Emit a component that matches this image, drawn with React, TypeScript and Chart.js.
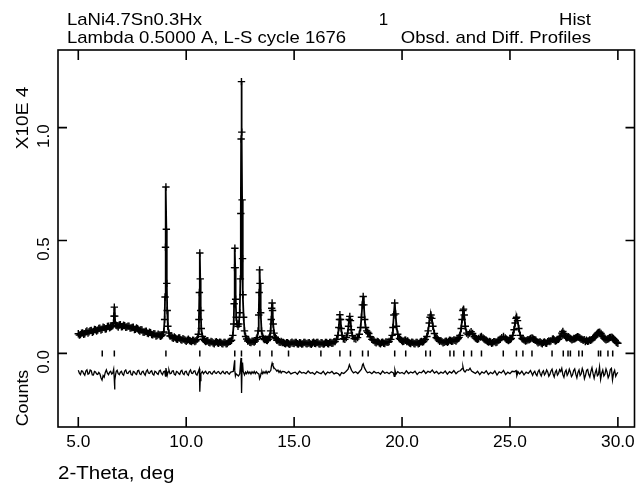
import React, { useEffect, useRef } from "react";
import { Chart, registerables } from "chart.js";

Chart.register(...registerables);

// ---------- texts ----------
const headerLeft = ["LaNi4.7Sn0.3Hx", "Lambda 0.5000 A, L-S cycle 1676"];
const headerCenter = "1";
const headerRight = ["Hist", "Obsd. and Diff. Profiles"];
const xAxisTitle = "2-Theta, deg";
const yAxisScaleTitle = "X10E 4";
const yAxisTitle = "Counts";

// ---------- ticks ----------
const xTicks = [5, 10, 15, 20, 25, 30];
const yTicks = [0, 0.5, 1.0];
const xRange = [4.06, 30.77];
const yRange = [-0.326, 1.344];

// ---------- observed / calculated profile: [2-theta, counts x 10^4] ----------
const profileLow: [number, number][] = [
  [5.0, .087], [5.05, .081], [5.1, .083], [5.15, .09], [5.2, .091], [5.25, .085], [5.3, .087], [5.35, .095],
  [5.4, .099], [5.45, .09], [5.5, .096], [5.55, .101], [5.6, .102], [5.65, .094], [5.7, .097], [5.75, .106],
  [5.8, .105], [5.85, .099], [5.9, .103], [5.95, .11], [6.0, .112], [6.05, .104], [6.1, .107], [6.15, .116],
  [6.2, .114], [6.25, .108], [6.3, .109], [6.35, .119], [6.4, .121], [6.45, .113], [6.5, .117], [6.55, .12],
  [6.6, .123], [6.63, .135], [6.65, .165], [6.67, .205], [6.69, .165], [6.71, .135], [6.75, .125], [6.8, .122],
  [6.85, .117], [6.9, .126], [6.95, .127], [7.0, .118], [7.05, .119], [7.1, .125], [7.15, .123], [7.2, .116],
  [7.25, .117], [7.3, .121], [7.35, .12], [7.4, .112], [7.45, .113], [7.5, .115], [7.55, .116], [7.6, .106],
  [7.65, .107], [7.7, .113], [7.75, .109], [7.8, .104], [7.85, .099], [7.9, .105], [7.95, .104], [8.0, .095],
  [8.05, .094], [8.1, .097], [8.15, .098], [8.2, .09], [8.25, .088], [8.3, .094], [8.35, .092], [8.4, .084],
  [8.45, .082], [8.5, .087], [8.55, .086], [8.6, .077], [8.65, .079], [8.7, .085], [8.75, .082], [8.8, .076],
  [8.85, .078], [8.9, .082], [8.96, .095], [9.0, .15], [9.02, .25], [9.04, .47], [9.06, .737], [9.08, .55],
  [9.1, .31], [9.12, .19], [9.15, .12], [9.2, .09], [9.25, .077], [9.3, .078], [9.35, .07], [9.4, .067],
];
const profileMid: [number, number][] = [
  [9.45, .073], [9.5, .069], [9.55, .064], [9.6, .063], [9.65, .069], [9.7, .068], [9.75, .061], [9.8, .059],
  [9.85, .065], [9.9, .062], [9.95, .058], [10.0, .054], [10.05, .059], [10.1, .063], [10.15, .057], [10.2, .055],
  [10.25, .052], [10.3, .058], [10.35, .057], [10.4, .052], [10.45, .056], [10.5, .062], [10.56, .085], [10.59, .15],
  [10.61, .27], [10.63, .445], [10.65, .33], [10.67, .19], [10.7, .11], [10.75, .075], [10.8, .063], [10.85, .057],
  [10.9, .052], [10.95, .055], [11.0, .056], [11.05, .049], [11.1, .047], [11.15, .053], [11.2, .051], [11.25, .046],
  [11.3, .043], [11.35, .05], [11.4, .052], [11.45, .047], [11.5, .045], [11.55, .05], [11.6, .049], [11.65, .044],
  [11.7, .042], [11.75, .049], [11.8, .048], [11.85, .043], [11.9, .044], [11.95, .05], [12.0, .053], [12.05, .054],
  [12.1, .058], [12.16, .08], [12.2, .13], [12.22, .22], [12.24, .38], [12.255, .466], [12.27, .38], [12.29, .24],
  [12.32, .16], [12.36, .13], [12.4, .12], [12.44, .13], [12.48, .18], [12.51, .33], [12.53, .62], [12.545, .95],
  [12.56, 1.204], [12.575, .98], [12.59, .68], [12.61, .42], [12.63, .26], [12.66, .16], [12.7, .1], [12.75, .075],
  [12.8, .064], [12.85, .055], [12.9, .056], [12.95, .049], [13.0, .048], [13.05, .054], [13.1, .053], [13.15, .05],
  [13.2, .055], [13.25, .063], [13.29, .07], [13.33, .1], [13.36, .17], [13.38, .27], [13.4, .37], [13.42, .31],
  [13.45, .18], [13.49, .1], [13.54, .075], [13.58, .066], [13.62, .061], [13.67, .063], [13.72, .058], [13.76, .057],
  [13.8, .062], [13.84, .069], [13.87, .075], [13.91, .1], [13.94, .15], [13.96, .2], [13.98, .223], [14.0, .19],
  [14.03, .13], [14.07, .09], [14.13, .07], [14.17, .065], [14.2, .058], [14.25, .06], [14.3, .051], [14.35, .049],
  [14.4, .053],
];
const profileHigh: [number, number][] = [
  [14.45, .048], [14.5, .049], [14.55, .045], [14.6, .042], [14.65, .047], [14.7, .047], [14.75, .043], [14.8, .04],
  [14.85, .046], [14.9, .05], [14.95, .045], [15.0, .044], [15.05, .049], [15.1, .048], [15.15, .043], [15.2, .041],
  [15.25, .047], [15.3, .046], [15.35, .041], [15.4, .042], [15.45, .048], [15.5, .049], [15.55, .044], [15.6, .042],
  [15.65, .046], [15.7, .047], [15.75, .042], [15.8, .04], [15.85, .046], [15.9, .05], [15.95, .045], [16.0, .044],
  [16.05, .049], [16.1, .048], [16.15, .042], [16.2, .041], [16.25, .047], [16.3, .046], [16.35, .041], [16.4, .042],
  [16.45, .048], [16.5, .049], [16.55, .044], [16.6, .043], [16.65, .049], [16.7, .048], [16.75, .045], [16.8, .046],
  [16.85, .052], [16.9, .053], [16.97, .062], [17.03, .08], [17.07, .115], [17.1, .15], [17.12, .171], [17.15, .15],
  [17.18, .11], [17.22, .08], [17.28, .065], [17.35, .062], [17.42, .07], [17.48, .09], [17.52, .12], [17.55, .15],
  [17.58, .164], [17.61, .145], [17.65, .105], [17.7, .078], [17.78, .066], [17.86, .064], [17.94, .07], [18.02, .085],
  [18.08, .115], [18.12, .16], [18.16, .215], [18.2, .252], [18.23, .215], [18.27, .15], [18.31, .115], [18.36, .1],
  [18.41, .094], [18.46, .088], [18.52, .074], [18.6, .062], [18.65, .06], [18.7, .057], [18.75, .05], [18.8, .047],
  [18.85, .053], [18.9, .051], [18.95, .046], [19.0, .042], [19.05, .048], [19.1, .05], [19.15, .045], [19.2, .044],
  [19.25, .051], [19.3, .05], [19.35, .049], [19.4, .053], [19.48, .062], [19.54, .08], [19.58, .115], [19.62, .17],
  [19.66, .223], [19.7, .175], [19.74, .12], [19.8, .085], [19.88, .066], [19.93, .062], [19.98, .057], [20.03, .053],
  [20.08, .054], [20.13, .059], [20.17, .058], [20.22, .052], [20.26, .055], [20.3, .05], [20.35, .046], [20.4, .044],
  [20.45, .05], [20.5, .049], [20.55, .044], [20.6, .043], [20.65, .049], [20.7, .048], [20.75, .043], [20.8, .045],
  [20.85, .051], [20.9, .053], [20.95, .05], [21.0, .052], [21.04, .059], [21.08, .062], [21.15, .075], [21.21, .1],
  [21.26, .135], [21.3, .16], [21.34, .17], [21.38, .155], [21.43, .12], [21.5, .088], [21.58, .07], [21.63, .066],
  [21.68, .06], [21.74, .054], [21.8, .056], [21.85, .052], [21.9, .047], [21.95, .049], [22.0, .053],
];
const profileTail: [number, number][] = [
  [22.05, .054], [22.1, .049], [22.15, .053], [22.2, .059], [22.25, .057], [22.3, .054], [22.35, .055], [22.4, .06],
  [22.45, .058], [22.5, .055], [22.55, .061], [22.6, .066], [22.64, .071], [22.68, .08], [22.74, .11], [22.78, .15],
  [22.82, .19], [22.85, .196], [22.88, .17], [22.93, .12], [22.99, .09], [23.06, .083], [23.13, .09], [23.2, .096],
  [23.27, .088], [23.35, .074], [23.4, .068], [23.45, .065], [23.5, .062], [23.55, .066], [23.63, .072], [23.68, .075],
  [23.75, .069], [23.8, .064], [23.85, .06], [23.9, .058], [23.95, .054], [24.0, .05], [24.05, .053], [24.1, .051],
  [24.15, .045], [24.2, .047], [24.25, .052], [24.3, .052], [24.35, .048], [24.4, .05], [24.45, .057], [24.5, .06],
  [24.55, .063], [24.62, .07], [24.7, .075], [24.78, .068], [24.83, .063], [24.88, .06], [24.93, .057], [24.98, .06],
  [25.02, .063], [25.06, .066], [25.13, .08], [25.19, .105], [25.24, .135], [25.28, .155], [25.31, .16], [25.35, .145],
  [25.41, .11], [25.48, .08], [25.56, .066], [25.61, .062], [25.66, .059], [25.72, .055], [25.78, .057], [25.83, .061],
  [25.88, .06], [25.92, .063], [25.96, .066], [26.02, .068], [26.06, .066], [26.1, .062], [26.15, .061], [26.2, .058],
  [26.25, .052], [26.3, .047], [26.35, .05], [26.4, .051], [26.45, .046], [26.5, .043], [26.55, .049], [26.6, .051],
  [26.65, .046], [26.7, .045], [26.75, .052], [26.8, .055], [26.85, .053], [26.9, .056], [26.97, .063], [27.01, .064],
  [27.05, .06], [27.1, .055], [27.15, .057], [27.2, .061], [27.25, .062], [27.29, .068], [27.33, .075], [27.4, .09],
  [27.45, .097], [27.5, .088], [27.54, .08], [27.58, .074], [27.62, .069], [27.66, .07], [27.7, .074], [27.74, .071],
  [27.78, .067], [27.82, .065], [27.87, .06], [27.92, .062], [27.96, .066], [28.0, .065], [28.04, .068], [28.08, .07],
  [28.12, .074], [28.16, .073], [28.2, .071], [28.24, .068], [28.29, .064], [28.34, .062], [28.39, .058], [28.44, .061],
  [28.49, .053], [28.54, .058], [28.59, .054], [28.64, .055], [28.69, .06], [28.74, .058], [28.79, .061], [28.84, .066],
  [28.89, .07], [28.94, .074], [28.98, .08], [29.02, .085], [29.06, .09], [29.1, .093], [29.16, .094], [29.22, .088],
  [29.26, .081], [29.3, .075], [29.35, .068], [29.4, .064], [29.45, .06], [29.5, .062], [29.54, .065], [29.58, .066],
  [29.62, .07], [29.65, .071], [29.72, .072], [29.76, .068], [29.8, .065], [29.84, .06], [29.88, .056], [29.92, .05],
  [29.95, .048], [30.0, .045],
];

// ---------- difference curve (obs - calc, plotted with offset) ----------
const diffLow: [number, number][] = [
  [5.0, -.075], [5.05, -.088], [5.1, -.094], [5.15, -.077], [5.2, -.079], [5.25, -.09], [5.3, -.097], [5.35, -.078],
  [5.4, -.073], [5.45, -.092], [5.5, -.089], [5.55, -.074], [5.6, -.077], [5.65, -.095], [5.7, -.096], [5.75, -.08],
  [5.8, -.082], [5.85, -.091], [5.9, -.093], [5.95, -.084], [6.0, -.09], [6.05, -.108], [6.1, -.118], [6.15, -.098],
  [6.2, -.105], [6.25, -.084], [6.3, -.073], [6.35, -.088], [6.4, -.094], [6.45, -.083], [6.5, -.079], [6.55, -.091],
  [6.6, -.086], [6.64, -.07], [6.66, -.1], [6.68, -.16], [6.7, -.12], [6.73, -.093], [6.76, -.079], [6.8, -.075],
  [6.85, -.09], [6.9, -.094], [6.95, -.083], [7.0, -.079], [7.05, -.092], [7.1, -.097], [7.15, -.078], [7.2, -.073],
  [7.25, -.088], [7.3, -.089], [7.35, -.081], [7.4, -.077], [7.45, -.094], [7.5, -.096], [7.55, -.08], [7.6, -.082],
  [7.65, -.09], [7.7, -.093], [7.75, -.077], [7.8, -.075], [7.85, -.091], [7.9, -.094], [7.95, -.082], [8.0, -.079],
  [8.05, -.09], [8.1, -.097], [8.15, -.079], [8.2, -.073], [8.25, -.087], [8.3, -.089], [8.35, -.08], [8.4, -.077],
  [8.45, -.092], [8.5, -.096], [8.55, -.079], [8.6, -.082], [8.65, -.089], [8.7, -.093], [8.75, -.078], [8.8, -.075],
  [8.85, -.088], [8.9, -.094], [8.95, -.081], [9.0, -.079], [9.04, -.1], [9.06, -.065], [9.08, -.075], [9.12, -.097],
  [9.16, -.082], [9.2, -.073], [9.25, -.09], [9.3, -.089], [9.35, -.078], [9.4, -.077], [9.45, -.093], [9.5, -.096],
  [9.55, -.08], [9.6, -.082], [9.65, -.089], [9.7, -.093], [9.75, -.079], [9.8, -.075], [9.85, -.09], [9.9, -.094],
  [9.95, -.08], [10.0, -.079], [10.05, -.092], [10.1, -.097], [10.15, -.08], [10.2, -.073], [10.25, -.088], [10.3, -.089],
  [10.35, -.079], [10.4, -.077], [10.45, -.092], [10.5, -.096], [10.55, -.082], [10.58, -.075], [10.61, -.068], [10.63, -.17],
  [10.65, -.12], [10.68, -.09], [10.75, -.08], [10.8, -.09], [10.85, -.083], [10.9, -.079], [10.95, -.088], [11.0, -.091],
  [11.05, -.082], [11.1, -.081], [11.15, -.089], [11.2, -.092], [11.25, -.083], [11.3, -.078], [11.35, -.087], [11.4, -.089],
  [11.45, -.082], [11.5, -.08], [11.55, -.088], [11.6, -.091], [11.65, -.083], [11.7, -.079], [11.75, -.087], [11.8, -.09],
  [11.85, -.082], [11.9, -.081], [11.95, -.089], [12.0, -.092], [12.05, -.084], [12.1, -.082], [12.18, -.08], [12.22, -.05],
  [12.24, -.03], [12.26, -.075], [12.28, -.1], [12.31, -.09], [12.36, -.095], [12.42, -.1], [12.48, -.09], [12.52, -.04],
  [12.54, -.02], [12.56, -.13], [12.57, -.175], [12.59, -.05], [12.61, -.04], [12.64, -.08], [12.7, -.095], [12.75, -.083],
  [12.8, -.09], [12.85, -.08], [12.9, -.089], [12.95, -.082], [13.0, -.091], [13.05, -.081], [13.1, -.088], [13.15, -.08],
  [13.2, -.09], [13.25, -.082], [13.3, -.087], [13.37, -.092], [13.4, -.112], [13.43, -.105], [13.47, -.088], [13.51, -.08],
  [13.55, -.09], [13.6, -.081], [13.65, -.088], [13.7, -.079], [13.75, -.089], [13.8, -.08], [13.85, -.084], [13.92, -.075],
  [13.95, -.055], [13.98, -.043], [14.02, -.055], [14.08, -.065], [14.15, -.072], [14.2, -.079], [14.25, -.074], [14.3, -.084],
  [14.35, -.077], [14.4, -.087], [14.45, -.08],
];
const diffHigh: [number, number][] = [
  [14.55, -.081], [14.65, -.088], [14.75, -.08], [14.85, -.091], [14.95, -.086], [15.05, -.083], [15.15, -.092], [15.25, -.079],
  [15.35, -.087], [15.45, -.084], [15.55, -.09], [15.65, -.078], [15.75, -.088], [15.85, -.085], [15.95, -.093], [16.05, -.081],
  [16.15, -.086], [16.25, -.09], [16.35, -.079], [16.45, -.094], [16.55, -.083], [16.65, -.087], [16.75, -.08], [16.85, -.091],
  [16.95, -.086], [17.05, -.09], [17.12, -.098], [17.2, -.085], [17.3, -.089], [17.4, -.08], [17.5, -.07], [17.56, -.05],
  [17.6, -.06], [17.66, -.075], [17.75, -.086], [17.85, -.081], [17.95, -.089], [18.05, -.078], [18.12, -.07], [18.17, -.05],
  [18.2, -.046], [18.25, -.062], [18.32, -.075], [18.4, -.086], [18.5, -.082], [18.6, -.09], [18.7, -.08], [18.8, -.087],
  [18.9, -.084], [19.0, -.092], [19.1, -.078], [19.2, -.088], [19.3, -.083], [19.4, -.09], [19.5, -.081], [19.6, -.086],
  [19.64, -.102], [19.67, -.073], [19.72, -.092], [19.8, -.081], [19.9, -.088], [20.0, -.084], [20.1, -.091], [20.2, -.077],
  [20.3, -.089], [20.4, -.082], [20.5, -.087], [20.6, -.079], [20.7, -.093], [20.8, -.083], [20.9, -.086], [21.0, -.076],
  [21.1, -.089], [21.2, -.079], [21.3, -.084], [21.4, -.074], [21.5, -.087], [21.6, -.08], [21.7, -.091], [21.8, -.083],
  [21.9, -.088], [22.0, -.078], [22.1, -.092], [22.2, -.081], [22.3, -.087], [22.4, -.076], [22.5, -.09], [22.6, -.08],
  [22.7, -.077], [22.78, -.068], [22.82, -.058], [22.86, -.076], [22.92, -.082], [23.0, -.072], [23.08, -.075], [23.15, -.066],
  [23.22, -.078], [23.3, -.083], [23.4, -.089], [23.5, -.079], [23.6, -.094], [23.7, -.082], [23.8, -.088], [23.9, -.077],
  [24.0, -.093], [24.1, -.084], [24.2, -.09], [24.3, -.078], [24.4, -.096], [24.5, -.082], [24.6, -.087], [24.7, -.075],
  [24.8, -.094], [24.9, -.083], [25.0, -.09], [25.1, -.079], [25.2, -.081], [25.28, -.076], [25.32, -.098], [25.38, -.082],
  [25.45, -.091], [25.55, -.079], [25.65, -.095], [25.75, -.083], [25.85, -.089], [25.95, -.076], [26.05, -.097], [26.1, -.085],
  [26.15, -.079], [26.2, -.092], [26.25, -.099], [26.3, -.081], [26.35, -.074], [26.4, -.09], [26.45, -.1], [26.5, -.084],
  [26.55, -.077], [26.6, -.095], [26.65, -.088], [26.7, -.073], [26.75, -.082], [26.8, -.101], [26.85, -.093], [26.9, -.078],
  [26.95, -.07], [27.0, -.091], [27.05, -.104], [27.1, -.083], [27.15, -.075], [27.2, -.096], [27.25, -.089], [27.3, -.072],
  [27.35, -.08], [27.4, -.066], [27.45, -.094], [27.5, -.106], [27.55, -.082], [27.6, -.074], [27.65, -.097], [27.7, -.088],
  [27.75, -.07], [27.8, -.083], [27.85, -.103], [27.9, -.095], [27.95, -.076], [28.0, -.069], [28.05, -.092], [28.1, -.108],
  [28.15, -.084], [28.2, -.073], [28.25, -.098], [28.3, -.09], [28.35, -.067], [28.4, -.081], [28.45, -.112], [28.5, -.097],
  [28.55, -.075], [28.6, -.071], [28.65, -.094], [28.7, -.105], [28.75, -.08], [28.8, -.064], [28.85, -.09], [28.9, -.11],
  [28.95, -.086], [29.0, -.072], [29.05, -.099], [29.1, -.093], [29.15, -.06], [29.2, -.115], [29.25, -.088], [29.3, -.074],
  [29.35, -.1], [29.4, -.092], [29.45, -.069], [29.5, -.083], [29.55, -.108], [29.6, -.097], [29.65, -.071], [29.7, -.066],
  [29.75, -.118], [29.8, -.087], [29.85, -.075], [29.9, -.101], [29.95, -.09], [30.0, -.084],
];

// ---------- reflection positions (2-theta) ----------
const reflections = [
  6.11, 6.67, 9.06, 10.63, 12.25, 12.56, 13.41, 13.97, 14.74, 16.24, 17.12, 17.61, 18.17, 18.43, 19.66, 20.17,
  21.1, 21.31, 22.22, 22.4, 22.86, 23.22, 23.68, 24.69, 25.3, 25.6, 26.02, 26.95, 27.47, 27.69, 27.8, 28.19,
  28.35, 29.1, 29.2, 29.54, 29.76,
];
const reflectionLevel = 0.0;

const FONT = '"Liberation Sans", Arial, Helvetica, sans-serif';

function drawText(
  ctx: CanvasRenderingContext2D,
  text: string,
  x: number,
  y: number,
  size: number,
  sx: number,
  align: CanvasTextAlign,
  rotate = false
) {
  ctx.save();
  ctx.translate(x, y);
  if (rotate) ctx.rotate(-Math.PI / 2);
  ctx.scale(sx, 1);
  ctx.font = `${size}px ${FONT}`;
  ctx.textAlign = align;
  ctx.textBaseline = "alphabetic";
  ctx.fillStyle = "#000";
  ctx.fillText(text, 0, 0);
  ctx.restore();
}

const framePlugin = {
  id: "gsasFrame",
  afterDraw(chart: any) {
    const { ctx, chartArea: a, scales } = chart;
    const xs = scales.x;
    const ys = scales.y;
    ctx.save();
    ctx.strokeStyle = "#000";
    ctx.lineWidth = 1.6;
    ctx.strokeRect(a.left, a.top, a.right - a.left, a.bottom - a.top);
    ctx.beginPath();
    for (const t of xTicks) {
      const px = xs.getPixelForValue(t);
      ctx.moveTo(px, a.bottom);
      ctx.lineTo(px, a.bottom - 10);
      ctx.moveTo(px, a.top);
      ctx.lineTo(px, a.top + 10);
    }
    for (const t of yTicks) {
      const py = ys.getPixelForValue(t);
      ctx.moveTo(a.left, py);
      ctx.lineTo(a.left + 9, py);
      ctx.moveTo(a.right, py);
      ctx.lineTo(a.right - 9, py);
    }
    ctx.stroke();
    ctx.restore();

    for (const t of xTicks) {
      drawText(ctx, t.toFixed(1), xs.getPixelForValue(t), a.bottom + 20, 17, 1.02, "center");
    }
    for (const t of yTicks) {
      drawText(ctx, t.toFixed(1), a.left - 9, ys.getPixelForValue(t) + 8.5, 17, 1.0, "center", true);
    }
    drawText(ctx, yAxisScaleTitle, 27.5, 118, 17, 1.12, "center", true);
    drawText(ctx, yAxisTitle, 28, 398, 17, 1.05, "center", true);
    drawText(ctx, xAxisTitle, a.left, 479, 18, 1.14, "left");

    drawText(ctx, headerLeft[0], 67, 25, 17, 1.09, "left");
    drawText(ctx, headerLeft[1], 67, 42.5, 17, 1.09, "left");
    drawText(ctx, headerCenter, 383.6, 25, 17, 1.0, "center");
    drawText(ctx, headerRight[0], 591, 25, 17, 1.09, "right");
    drawText(ctx, headerRight[1], 591, 42.5, 17, 1.09, "right");
  },
};

export default function App() {
  const canvasRef = useRef<HTMLCanvasElement | null>(null);

  useEffect(() => {
    const canvas = canvasRef.current;
    if (!canvas) return;
    const toPoints = (rows: [number, number][]) => rows.map(([x, y]) => ({ x, y }));
    const observed = toPoints([...profileLow, ...profileMid, ...profileHigh, ...profileTail]);
    const difference = toPoints([...diffLow, ...diffHigh]);
    const ticks = reflections.map((x) => ({ x, y: reflectionLevel }));

    const chart = new Chart(canvas, {
      type: "scatter",
      data: {
        datasets: [
          {
            label: "Obsd",
            data: observed,
            showLine: false,
            pointStyle: "cross",
            pointRadius: 3.7,
            pointBorderWidth: 1.4,
            pointBorderColor: "#000",
            pointBackgroundColor: "#000",
            borderColor: "#000",
          },
          {
            label: "Calc",
            data: observed,
            showLine: true,
            pointRadius: 0,
            borderColor: "#000",
            borderWidth: 1.8,
          },
          {
            label: "Diff",
            data: difference,
            showLine: true,
            pointRadius: 0,
            borderColor: "#000",
            borderWidth: 1.3,
          },
          {
            label: "Reflections",
            data: ticks,
            showLine: false,
            pointStyle: "line",
            rotation: 90,
            pointRadius: 3,
            pointBorderWidth: 1.5,
            pointBorderColor: "#000",
            borderColor: "#000",
          },
        ],
      },
      options: {
        animation: false,
        responsive: false,
        events: [],
        layout: { padding: { left: 58, top: 50, right: 5, bottom: 56 } },
        plugins: { legend: { display: false }, tooltip: { enabled: false } },
        scales: {
          x: { type: "linear", min: xRange[0], max: xRange[1], display: false },
          y: { type: "linear", min: yRange[0], max: yRange[1], display: false },
        },
      },
      plugins: [framePlugin],
    });
    return () => chart.destroy();
  }, []);

  return (
    <div style={{ position: "absolute", left: 0, top: 0, width: 640, height: 483, background: "#fff" }}>
      <canvas ref={canvasRef} width={640} height={483} style={{ display: "block" }} />
    </div>
  );
}
